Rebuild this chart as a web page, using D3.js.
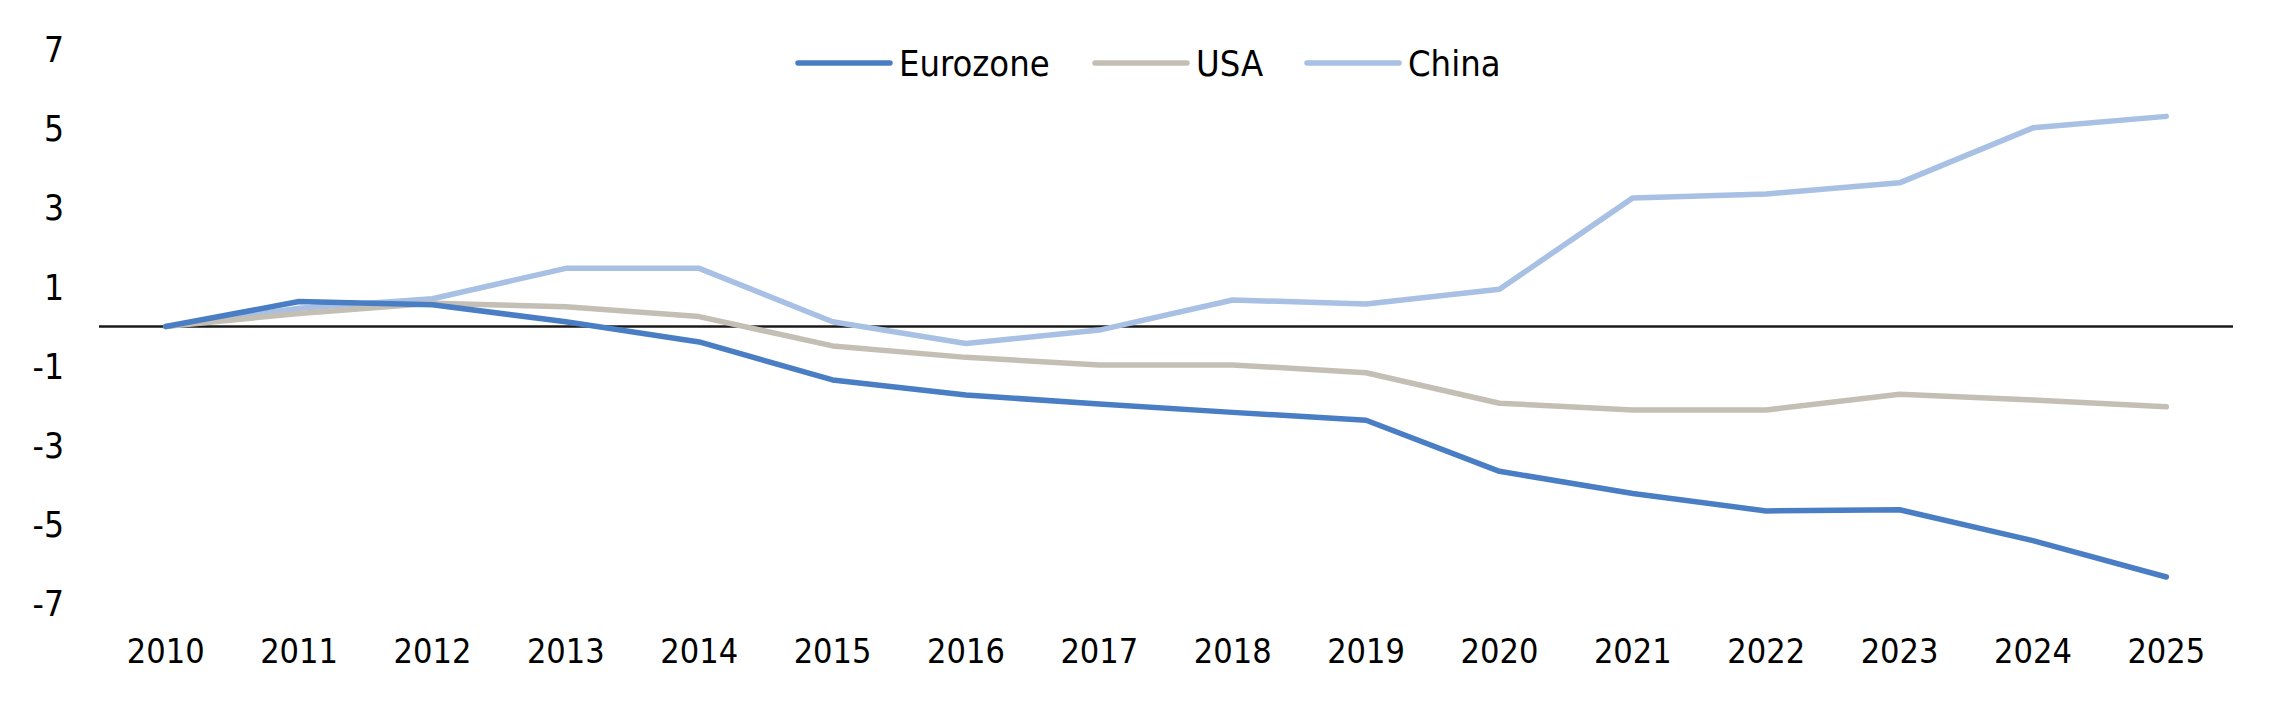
<!DOCTYPE html>
<html>
<head>
<meta charset="utf-8">
<script src="https://cdn.jsdelivr.net/npm/d3@7"></script>
<style>
  body { margin: 0; background: #fff; }
  text { font-family: "DejaVu Sans Condensed", "DejaVu Sans", sans-serif; font-stretch: condensed; fill: #000; }
</style>
</head>
<body>
<svg id="chart"></svg>
<script>
var years = ["2010","2011","2012","2013","2014","2015","2016","2017","2018","2019","2020","2021","2022","2023","2024","2025"];
var eurozone = [0, 0.63, 0.55, 0.12, -0.39, -1.35, -1.73, -1.96, -2.17, -2.37, -3.66, -4.22, -4.66, -4.63, -5.41, -6.33];
var usa = [0, 0.33, 0.59, 0.50, 0.25, -0.49, -0.78, -0.97, -0.97, -1.17, -1.94, -2.11, -2.11, -1.71, -1.86, -2.03];
var china = [0, 0.46, 0.70, 1.47, 1.47, 0.12, -0.43, -0.09, 0.67, 0.57, 0.94, 3.25, 3.35, 3.63, 5.02, 5.31];
var yTicks = [7, 5, 3, 1, -1, -3, -5, -7];
var seriesNames = ["Eurozone", "USA", "China"];
var seriesColors = ["#4a7ec4", "#c4bfb4", "#a7c0e3"];

var width = 2284, height = 702;
var margin = {top: 49.5, left: 99, right: 51, bottom: 98.5};

var svg = d3.select("#chart")
	.attr("width", width)
	.attr("height", height);

var x = d3.scaleBand()
	.domain(years)
	.range([margin.left, width - margin.right]);

var y = d3.scaleLinear()
	.domain([-7, 7])
	.range([height - margin.bottom, margin.top]);

// y labels (no axis line)
svg.append("g")
	.selectAll("text")
	.data(yTicks)
	.join("text")
		.attr("x", 64)
		.attr("y", d => y(d))
		.attr("dy", "0.36em")
		.attr("text-anchor", "end")
		.style("font-size", "35px")
		.text(d => d);

// x labels
svg.append("g")
	.selectAll("text")
	.data(years)
	.join("text")
		.attr("x", d => x(d) + x.bandwidth() / 2)
		.attr("y", 663)
		.attr("text-anchor", "middle")
		.style("font-size", "34px")
		.text(d => d);

// zero line
svg.append("line")
	.attr("x1", x.range()[0])
	.attr("x2", x.range()[1])
	.attr("y1", y(0))
	.attr("y2", y(0))
	.attr("stroke", "#1a1a1a")
	.attr("stroke-width", 2.5);

var line = d3.line()
	.x((d, i) => x(years[i]) + x.bandwidth() / 2)
	.y(d => y(d));

var allSeries = [eurozone, usa, china];
// draw China first so Eurozone sits on top like in the original
[2, 1, 0].forEach(k => {
	svg.append("path")
		.datum(allSeries[k])
		.attr("fill", "none")
		.attr("stroke", seriesColors[k])
		.attr("stroke-width", 5.5)
		.attr("stroke-linejoin", "round")
		.attr("stroke-linecap", "round")
		.attr("d", line);
});

// legend
var legendX = [798, 1095, 1307];
var legend = svg.append("g")
	.selectAll("g")
	.data(seriesNames)
	.join("g")
		.attr("transform", (d, i) => `translate(${legendX[i]},63)`);
legend.append("line")
	.attr("x1", 0).attr("x2", 92)
	.attr("stroke", (d, i) => seriesColors[i])
	.attr("stroke-width", 5.5)
	.attr("stroke-linecap", "round");
legend.append("text")
	.attr("x", 101)
	.attr("dy", "0.36em")
	.style("font-size", "36px")
	.text(d => d);
</script>
</body>
</html>
